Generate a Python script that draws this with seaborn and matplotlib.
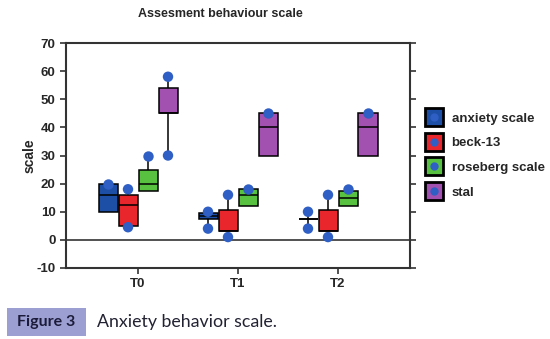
import numpy as np
import pandas as pd
import seaborn as sns
import matplotlib
matplotlib.use("Agg")
import matplotlib.pyplot as plt
from matplotlib.lines import Line2D
from matplotlib.legend_handler import HandlerTuple
from matplotlib.patches import Rectangle

times = ["T0", "T1", "T2"]
scales = ["anxiety scale", "beck-13", "roseberg scale", "stal"]
colors = ["#1d4fa6", "#e8262b", "#58c13f", "#a251b0"]
dot_color = "#2f5fc4"

# five-number summaries per scale: [T0, T1, T2]
anx_min = [10, 4, 4];    anx_q1 = [10, 7.5, 7.5];  anx_med = [16, 8.5, 7.5];  anx_q3 = [20, 9.5, 7.5];  anx_max = [20, 10, 10]
beck_min = [4.5, 1, 1];  beck_q1 = [5, 3, 3];      beck_med = [12.5, 3, 3];   beck_q3 = [16, 10.5, 10.5]; beck_max = [18, 16, 16]
ros_min = [17.5, 12, 12]; ros_q1 = [17.5, 12, 12]; ros_med = [20, 16, 15];    ros_q3 = [25, 18, 17.5];  ros_max = [30, 18, 18]
stal_min = [30, 30, 30]; stal_q1 = [45, 30, 30];   stal_med = [45, 40, 40];   stal_q3 = [54, 45, 45];   stal_max = [58, 45, 45]

# marked points
anx_dots = [[20], [10, 4], [10, 4]]
beck_dots = [[18, 4.5], [16, 1], [16, 1]]
ros_dots = [[30], [18], [18]]
stal_dots = [[58, 30], [45], [45]]

summ = {
    "anxiety scale": (anx_min, anx_q1, anx_med, anx_q3, anx_max, anx_dots),
    "beck-13": (beck_min, beck_q1, beck_med, beck_q3, beck_max, beck_dots),
    "roseberg scale": (ros_min, ros_q1, ros_med, ros_q3, ros_max, ros_dots),
    "stal": (stal_min, stal_q1, stal_med, stal_q3, stal_max, stal_dots),
}

rows, drows = [], []
for s in scales:
    mn, q1, md, q3, mx, dots = summ[s]
    for i, t in enumerate(times):
        for v in (mn[i], q1[i], md[i], q3[i], mx[i]):
            rows.append((t, s, v))
        for v in dots[i]:
            drows.append((t, s, v))
df = pd.DataFrame(rows, columns=["time", "scale", "value"])
dd = pd.DataFrame(drows, columns=["time", "scale", "value"])

sns.set_style("white")
plt.rcParams["font.family"] = ["Liberation Sans", "DejaVu Sans"]
plt.rcParams["axes.unicode_minus"] = False

fig = plt.figure(figsize=(5.5, 3.39), dpi=100)
ax = fig.add_axes([66 / 550, 1 - 268 / 339, (410 - 66) / 550, (268 - 43) / 339])

ax.axhline(0, color="#333333", lw=1.2, zorder=0)

sns.boxplot(data=df, x="time", y="value", hue="scale", order=times, hue_order=scales,
            palette=colors, saturation=1, width=0.8, gap=0.05, whis=(0, 100),
            showcaps=False, showfliers=False, linecolor="black", linewidth=1.1,
            legend=False, ax=ax)
sns.stripplot(data=dd, x="time", y="value", hue="scale", order=times, hue_order=scales,
              palette=[dot_color] * 4, dodge=True, jitter=False, size=7.5,
              legend=False, ax=ax, zorder=5)

ax.set_xlim(-0.72, 2.72)
ax.set_ylim(-10, 70)
ax.set_yticks(range(-10, 71, 10))
ax.set_xlabel("")
ax.set_ylabel("scale", fontsize=10, fontweight="bold", labelpad=0)
ax.tick_params(axis="both", labelsize=9.5, length=4, width=1.2, direction="out", color="#333333")
for lab in ax.get_xticklabels() + ax.get_yticklabels():
    lab.set_fontweight("bold")
ax.tick_params(axis="y", right=True, left=True)
ax.tick_params(axis="x", bottom=True)
for sp in ax.spines.values():
    sp.set_color("#333333")
    sp.set_linewidth(1.5)

handles = []
for c in colors:
    sq = Line2D([], [], marker="s", linestyle="none", markersize=13,
                markerfacecolor=c, markeredgecolor="black", markeredgewidth=2)
    dt = Line2D([], [], marker="o", linestyle="none", markersize=5, color=dot_color)
    handles.append((sq, dt))
fig.legend(handles, scales, handler_map={tuple: HandlerTuple(ndivide=1, pad=0)},
           loc="upper left", bbox_to_anchor=(420 / 550, 1 - 107 / 339), frameon=False,
           prop={"weight": "bold", "size": 9.5}, handlelength=1.3, handletextpad=0.7,
           labelspacing=0.95, borderaxespad=0)

fig.text(220 / 550, 1 - 14 / 339, "Assesment behaviour scale", ha="center", va="center",
         fontsize=9, fontweight="bold")

fig.patches.append(Rectangle((7 / 550, 1 - 336 / 339), 79 / 550, 28 / 339,
                             transform=fig.transFigure, facecolor="#9c9fd2",
                             edgecolor="none", figure=fig))
fig.text(46 / 550, 1 - 322 / 339, "Figure 3", ha="center", va="center",
         fontsize=11.5, fontweight="bold", color="#1c1c3a", family=["Lato", "DejaVu Sans"])
fig.text(97 / 550, 1 - 322 / 339, "Anxiety behavior scale.", ha="left", va="center",
         fontsize=12.8, color="#222233", family=["Lato", "DejaVu Sans"])

fig.savefig("out.png", dpi=100)
